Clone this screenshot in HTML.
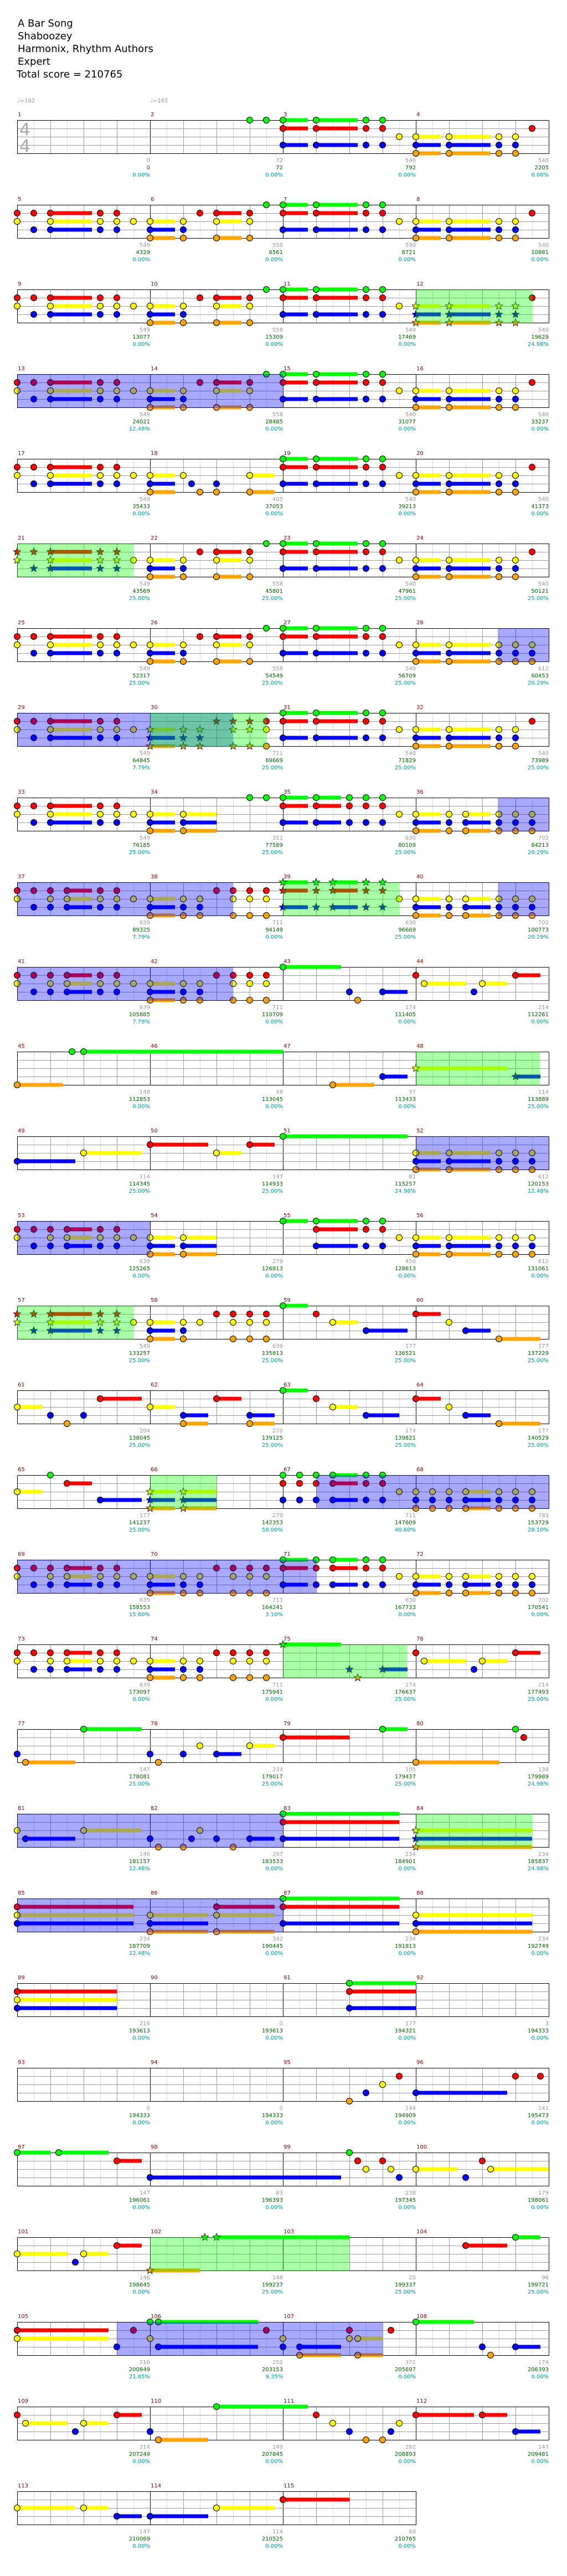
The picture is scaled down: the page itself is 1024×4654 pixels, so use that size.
<!DOCTYPE html>
<html><head><meta charset="utf-8"><style>
html,body{margin:0;padding:0;background:#fff;}
body{width:1024px;height:4654px;overflow:hidden;position:relative;}
svg{position:absolute;left:0;top:0;}
</style></head><body>
<svg id="s" width="1024" height="4654" xmlns="http://www.w3.org/2000/svg" font-family="DejaVu Sans, Liberation Sans, sans-serif">
<rect width="1024" height="4654" fill="#fff"/>
<g font-size="18" fill="#000">
<text x="32" y="48">A Bar Song</text>
<text x="32" y="71">Shaboozey</text>
<text x="32" y="94">Harmonix, Rhythm Authors</text>
<text x="32" y="117">Expert</text>
<text x="30" y="140">Total score = 210765</text>
</g>
<g font-size="10" fill="#999">
<text x="31" y="185">♩=162</text>
<text x="271" y="185">♩=162</text>
</g>
<g id="g"></g>
<g font-size="31" fill="#aaa">
<text x="35" y="245">4</text>
<text x="35" y="275">4</text>
</g>
</svg>
<script>
(function(){
var A="ry0 rb2 ryb4:5 ryb10 ryb12 y14",B="ybo0:3 ybo4 r6 ryo8:3 ryo12 g14",C="grb0:3 grb4:5 grb10 grb12 y14",D="ybo0:3 ybo4:5 ybo10 ybo12 r14",
P37="ry0 rb2 ryb4 ryb6:3 ryb10 ryb12 y14",P38="ybo0:3 ybo4 ybo6 r8 ryo10 ryo12 ryo14",P39="grb0:3 grb4 grb6:3 grb10 grb12 y14",P40="ybo0:3 ybo4 ybo6:3 ybo10 ybo12 ybo14",
D2="ybo0:3 ybo4:5 ybo10 ybo12 ybo14";
var N=[null,"","g12 g14",C,D, A,B,C,D, A,B,C,D, A,B,C,D,
A,"ybo0:3 y4 b5 o6 bo8 yo12:3",C,D, A,B,C,D, A,B,C,D2, A,P38,C,D,
A,"ybo0:3 ybo4:4 g12 g14","grb0:3 grb4:3 grb8 grb10 grb12 y14",P40,
P37,P38,P39,P40, P37,P38,"g0:7 b8 o9 b12:3","r0 y1:5 b7 y8:3 r12:3",
"o0:5.5 g6.6 g8:24","","o6:5 b12:3","y0:11 b12:3",
"b0:7 y8:7","r0:7 y8:3 r12:3","g0:15",D2,
P37,"ybo0:3 ybo4:4","g0:3 grb4:5 grb10 grb12 y14",D2,
A,"ybo0:3 ybo4 y6 r8 ryo10 ryo12 ryo14","g0:3 r4 y6:3 b10:5","r0:3 y4 b6:3 o10:5",
"y0:3 b4 o6 b8 r10:5","y0:3 bo4:3 r8:3 bo12:3","g0:3 r4 y6:3 b10:4","r0:3 y4 b6:3 o10:5",
"y0:3 g4 r6:3 b10:5","ybo0:3 ybo4:4","grb0 grb2 grb4 grb6:3 grb10 grb12 y14","ybo0 ybo2 ybo4 ybo6:3 ybo10 ybo12 ybo14",
P37,P38,P39,P40, P37,P38,"g0:7 b8 o9 b12:3","r0 y1:5 b7 y8:3 r12:3",
"b0 o1:6 g8:7","b0 o1 b4 y6 b8:3 y12:3","r0:8 g12:3","o0:10 g12 r13",
"y0 b1:6 y8:7","b0 o1 o4 b5 y6 b8 o10 b12:3","grb0:14","ybo0:14",
"ryb0:14","ybo0:7 ryo8:7","grb0:14","ybo0:14",
"ryb0:12","","grb8:8","",
"","","o8 b10 y12 r14","b0:11 r12 r15",
"g0:4 g5:6 r12:3","b0:23","g8 r9 y10 r12 y13 b14","y0:5 b6 r8 y9:7",
"y0:6 b7 y8:3 r12:3","o0:6 g6.6 g8:16","","r6:5 g12:3",
"ry0:11 b12 r14","gy0 gb1:12 r14","yb0 bo2:5 ry8 yo9:3 r13","g0:7 b8 o9 b12:3",
"r0 y1:5 b7 y8:3 r12:3","b0 o1:6 g8:11","r4 y6 b8 o10 o12 b13 y14","r0:7 r8:3 b12:3",
"y0:7 y8:3 b12:3","b0:7 y8:7","r0:8"];
var S=("0,0,0.00|72,72|540,792|540,2205|549,4329|558,6561|540,8721|540,10881|549,13077|558,15309|540,17469|540,19629,24.98|"+
"549,24021,12.48|558,28485|540,31077|540,33237|549,35433|405,37053|540,39213|540,41373|549,43569,25.00|558,45801,25.00|540,47961,25.00|540,50121,25.00|"+
"549,52317,25.00|558,54549,25.00|540,56709,25.00|612,60453,20.29|549,64845,7.79|711,69669,25.00|540,71829,25.00|540,73989,25.00|"+
"549,76185,25.00|351,77589,25.00|630,80109,25.00|702,84213,20.29|639,89325,7.79|711,94149|630,96669,25.00|702,100773,20.29|"+
"639,105885,7.79|711,110709|174,111405|214,112261|148,112853|48,113045|97,113433|114,113889,25.00|"+
"114,114345,25.00|147,114933,25.00|81,115257,24.98|612,120153,12.48|639,125265|279,126813|450,128613|612,131061|"+
"549,133257,25.00|639,135813,25.00|177,136521,25.00|177,137229,25.00|204,138045,25.00|270,139125,25.00|174,139821,25.00|177,140529,25.00|"+
"177,141237,25.00|279,142353,50.00|711,147609,40.60|783,153729,28.10|639,158553,15.60|711,164241,3.10|630,167733|702,170541|"+
"639,173097|711,175941|174,176637,25.00|214,177493,25.00|147,178081,25.00|234,179017,25.00|105,179437,25.00|138,179989,24.98|"+
"146,181157,12.48|297,183533|234,184901|234,185837,24.98|234,187709,12.48|342,190445|234,191813|234,192749|"+
"216,193613|0,193613|177,194321|3,194333|0,194333|0,194333|144,194909|141,195473|147,196061|83,196393|238,197345|179,198061|"+
"146,198645|148,199237,25.00|25,199337,25.00|96,199721,25.00|210,200849,21.85|252,203153,9.35|372,205697|174,206393|"+
"214,207249|149,207845|262,208893|147,209481|147,210069|114,210525|60,210765").split("|");
var RG={2:[[751,961,"g"]],3:[[31,511,"b"]],5:[[31,241,"g"]],6:[[899,991,"b"]],7:[[31,421,"b"],[271,481,"g"]],8:[[899,991,"b"]],
9:[[31,421,"b"],[511,721,"g"],[899,991,"b"]],10:[[31,421,"b"]],11:[[751,975,"g"]],12:[[751,991,"b"]],13:[[31,271,"b"]],14:[[31,241,"g"]],
16:[[271,391,"g"],[571,991,"b"]],17:[[31,571,"b"]],18:[[511,736,"g"]],20:[[31,511,"b"],[751,961,"g"]],21:[[31,511,"b"]],25:[[271,631,"g"]],26:[[211,691,"b"]]};
var L={g:[0,"#00ff00"],r:[1,"#ff0000"],y:[2,"#ffff00"],b:[3,"#0000ff"],o:[4,"#ffa500"]};
function star(cx,cy,Ro,ri){var p=[];for(var k=0;k<10;k++){var a=-Math.PI/2+k*Math.PI/5,rd=k%2?ri:Ro;p.push((cx+rd*Math.cos(a)).toFixed(1)+","+(cy+rd*Math.sin(a)).toFixed(1));}return p.join(" ");}
var out="";
for(var r=0;r<29;r++){
  var ty=217+153*r,cnt=r==28?3:4,W=cnt*240,x0=31,regs=RG[r]||[];
  var grid="",sus="",heads="",txt="";
  for(var i=0;i<cnt;i++){
    var mx=x0+i*240,m=4*r+i+1;
    for(var k=1;k<8;k++){var xx=mx+k*30+0.5;grid+='<line x1="'+xx+'" y1="'+ty+'" x2="'+xx+'" y2="'+(ty+60)+'" stroke="'+(k%2?"#dddddd":"#999999")+'"/>';}
    if(i>0)grid+='<line x1="'+(mx+0.5)+'" y1="'+ty+'" x2="'+(mx+0.5)+'" y2="'+(ty+60)+'" stroke="#000"/>';
    txt+='<text x="'+(mx+1)+'" y="'+(ty-7)+'" fill="#8b0000">'+m+'</text>';
    var sc=(S[m-1]||"0,0").split(",");
    txt+='<text x="'+(mx+240)+'" y="'+(ty+76)+'" fill="#999" text-anchor="end">'+sc[0]+'</text>';
    txt+='<text x="'+(mx+240)+'" y="'+(ty+89)+'" fill="#006400" text-anchor="end">'+sc[1]+'</text>';
    txt+='<text x="'+(mx+240)+'" y="'+(ty+102)+'" fill="#009999" text-anchor="end">'+(sc[2]||"0.00")+'%</text>';
    var toks=(N[m]||"").split(" ");
    for(var t=0;t<toks.length;t++){
      var mm=/^([grybo]+)([\d.]+)(?::([\d.]+))?$/.exec(toks[t]);if(!mm)continue;
      var nx=mx+parseFloat(mm[2])*15,len=mm[3]?parseFloat(mm[3])*15:0;
      var inG=false;for(var q=0;q<regs.length;q++)if(regs[q][2]=="g"&&nx>=regs[q][0]-1&&nx<regs[q][1])inG=true;
      for(var c=0;c<mm[1].length;c++){
        var ln=L[mm[1].charAt(c)],ny=ty+ln[0]*15;
        if(len)sus+='<rect x="'+nx+'" y="'+(ny-3.5)+'" width="'+len+'" height="7" fill="'+ln[1]+'"/>';
        if(inG)heads+='<polygon points="'+star(nx,ny,7,3)+'" fill="'+ln[1]+'" stroke="#000" stroke-width="0.8"/>';
        else heads+='<circle cx="'+nx+'" cy="'+ny+'" r="5.5" fill="'+ln[1]+'" stroke="#000" stroke-width="1"/>';
      }
    }
  }
  for(var h=1;h<4;h++)grid+='<line x1="'+x0+'" y1="'+(ty+h*15+0.5)+'" x2="'+(x0+W)+'" y2="'+(ty+h*15+0.5)+'" stroke="#999999"/>';
  grid+='<rect x="'+(x0+0.5)+'" y="'+(ty+0.5)+'" width="'+W+'" height="60" fill="none" stroke="#000"/>';
  var ov="";
  for(var q2=0;q2<regs.length;q2++){var gg=regs[q2];ov+='<rect x="'+gg[0]+'" y="'+ty+'" width="'+(gg[1]-gg[0])+'" height="61" fill="'+(gg[2]=="g"?"#00ff00":"#0000ff")+'" fill-opacity="0.34"/>';}
  out+=grid+sus+heads+ov+'<g font-size="10">'+txt+'</g>';
}
document.getElementById("g").innerHTML=out;
})();
</script>
</body></html>
